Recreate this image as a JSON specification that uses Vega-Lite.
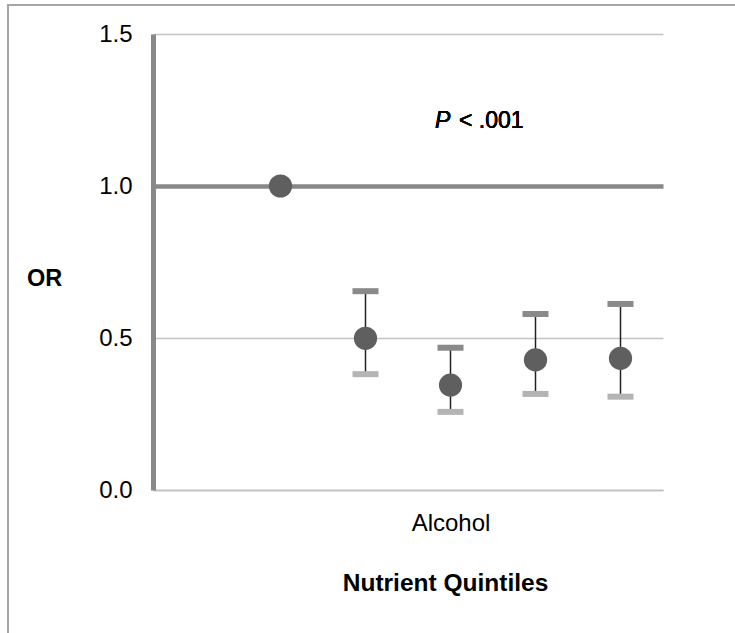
{
  "$schema": "https://vega.github.io/schema/vega-lite/v6.json",
  "width": 510,
  "height": 456,
  "autosize": {"type": "none"},
  "padding": {"left": 153, "top": 34, "right": 72, "bottom": 143},
  "background": "white",
  "config": {
    "view": {"stroke": null},
    "font": "Liberation Sans"
  },
  "data": {
    "values": [
      {"quintile": 1, "OR": 1.0},
      {"quintile": 2, "OR": 0.499, "lower": 0.381, "upper": 0.654},
      {"quintile": 3, "OR": 0.345, "lower": 0.257, "upper": 0.468},
      {"quintile": 4, "OR": 0.428, "lower": 0.316, "upper": 0.579},
      {"quintile": 5, "OR": 0.433, "lower": 0.307, "upper": 0.612}
    ]
  },
  "layer": [
    {
      "mark": {"type": "rect", "fill": null, "stroke": "#a6a6a6", "strokeWidth": 1.5, "clip": false},
      "encoding": {
        "x": {"datum": -2.206, "type": "quantitative", "scale": {"domain": [-0.5, 5.5]}},
        "x2": {"datum": 9},
        "y": {"datum": 1.595, "type": "quantitative", "scale": {"domain": [0, 1.5]}},
        "y2": {"datum": -1}
      }
    },
    {
      "transform": [{"filter": "isValid(datum.lower)"}],
      "mark": {"type": "rule", "color": "#222222", "strokeWidth": 1.5},
      "encoding": {
        "x": {
          "field": "quintile", "type": "quantitative",
          "scale": {"domain": [-0.5, 5.5], "nice": false, "zero": false},
          "axis": {
            "values": [3],
            "labelExpr": "'Alcohol'",
            "labelFontSize": 24,
            "labelColor": "#000000",
            "labelPadding": 40,
            "labelBaseline": "alphabetic",
            "ticks": false,
            "tickSize": 0,
            "grid": false,
            "domainColor": "#c0c0c0",
            "domainWidth": 1.5,
            "title": "Nutrient Quintiles",
            "titleFontSize": 24.5,
            "titleFontWeight": "bold",
            "titleColor": "#000000",
            "titleX": 292,
            "titleY": 100,
            "titleAlign": "center",
            "titleBaseline": "alphabetic"
          }
        },
        "y": {
          "field": "lower", "type": "quantitative",
          "scale": {"domain": [0, 1.5], "nice": false},
          "axis": {
            "values": [0, 0.5, 1, 1.5],
            "format": ".1f",
            "labelFontSize": 24,
            "labelColor": "#000000",
            "labelPadding": 21,
            "ticks": false,
            "tickSize": 0,
            "domainColor": "#888888",
            "domainWidth": 5,
            "grid": true,
            "gridColor": {"condition": {"test": "datum.value === 1", "value": "#888888"}, "value": "#c4c4c4"},
            "gridWidth": {"condition": {"test": "datum.value === 1", "value": 4.5}, "value": 1.5},
            "title": "OR",
            "titleAngle": 0,
            "titleFontSize": 23.5,
            "titleFontWeight": "bold",
            "titleColor": "#000000",
            "titleX": -109,
            "titleY": 244,
            "titleAlign": "center",
            "titleBaseline": "middle"
          }
        },
        "y2": {"field": "upper"}
      }
    },
    {
      "transform": [{"filter": "isValid(datum.upper)"}],
      "mark": {"type": "tick", "orient": "horizontal", "color": "#8a8a8a", "size": 26, "thickness": 6, "opacity": 1},
      "encoding": {
        "x": {"field": "quintile", "type": "quantitative"},
        "y": {"field": "upper", "type": "quantitative"}
      }
    },
    {
      "transform": [{"filter": "isValid(datum.lower)"}],
      "mark": {"type": "tick", "orient": "horizontal", "color": "#b4b4b4", "size": 26, "thickness": 6, "opacity": 1},
      "encoding": {
        "x": {"field": "quintile", "type": "quantitative"},
        "y": {"field": "lower", "type": "quantitative"}
      }
    },
    {
      "mark": {"type": "circle", "color": "#5f5f5f", "size": 540, "opacity": 1},
      "encoding": {
        "x": {"field": "quintile", "type": "quantitative"},
        "y": {"field": "OR", "type": "quantitative"}
      }
    },
    {
      "mark": {"type": "text", "text": "P", "fontStyle": "italic", "fontSize": 23, "align": "left", "baseline": "alphabetic", "color": "#000000"},
      "encoding": {
        "x": {"datum": 2.818, "type": "quantitative"},
        "y": {"datum": 1.191, "type": "quantitative"}
      }
    },
    {
      "mark": {"type": "text", "text": "< .001", "fontSize": 23, "align": "left", "baseline": "alphabetic", "color": "#000000"},
      "encoding": {
        "x": {"datum": 3.1, "type": "quantitative"},
        "y": {"datum": 1.191, "type": "quantitative"}
      }
    }
  ]
}
